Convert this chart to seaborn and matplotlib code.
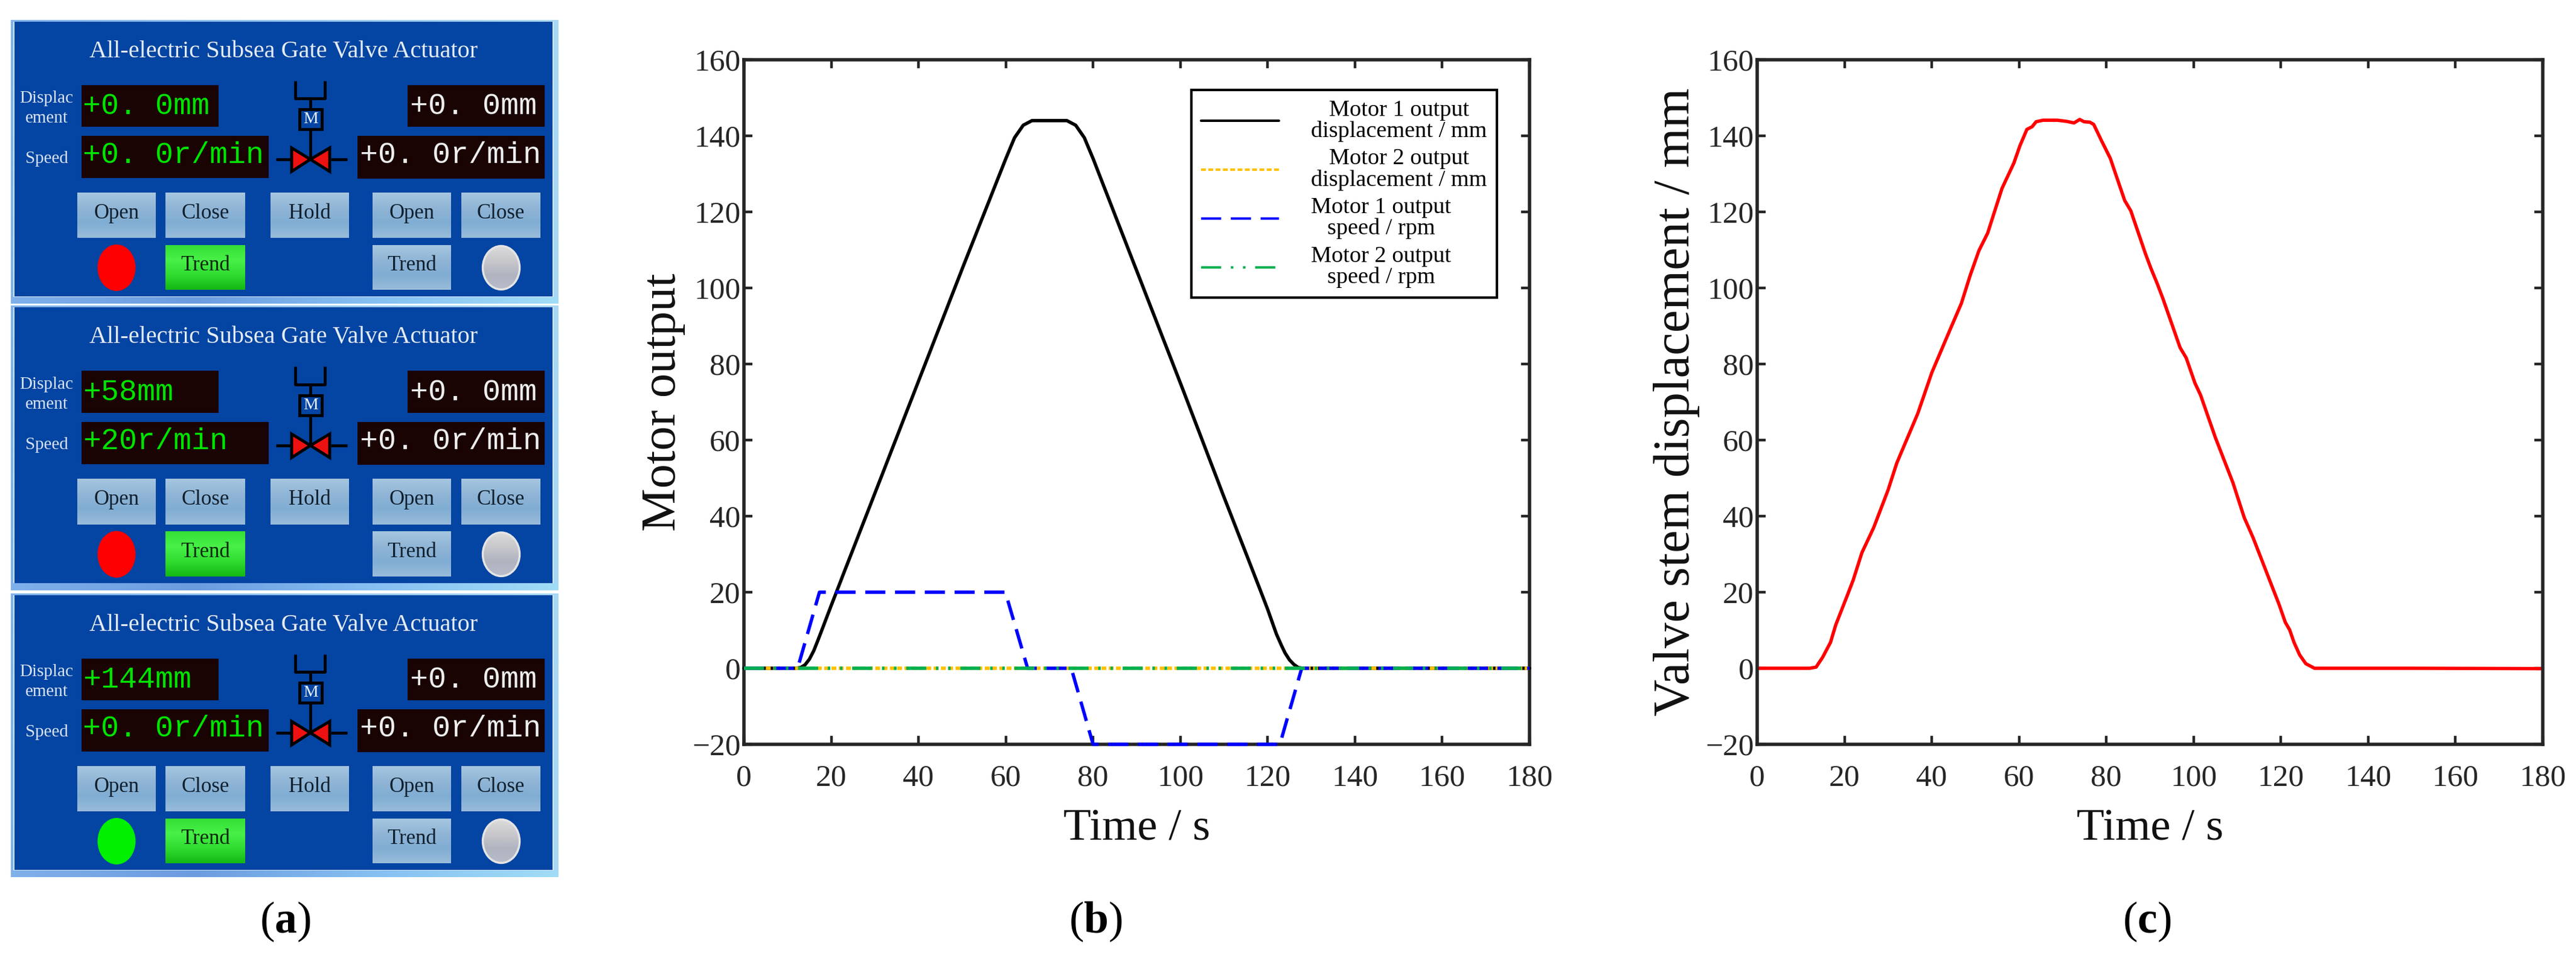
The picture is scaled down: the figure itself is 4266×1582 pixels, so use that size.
import numpy as np
import pandas as pd
import seaborn as sns
from matplotlib import pyplot as plt
from matplotlib.patches import Ellipse, Polygon, Rectangle

# panel (a) readouts
title_hmi = 'All-electric Subsea Gate Valve Actuator'
left_disp = ['+0. 0mm', '+58mm', '+144mm']
left_speed = ['+0. 0r/min', '+20r/min', '+0. 0r/min']
right_disp = ['+0. 0mm', '+0. 0mm', '+0. 0mm']
right_speed = ['+0. 0r/min', '+0. 0r/min', '+0. 0r/min']
lamp_colors = ['#ff0000', '#ff0000', '#00f000']

# panel (b) values
t_disp1 = [0, 12, 13, 14, 15, 16, 17, 18, 20, 23, 30, 40, 50, 60, 62, 64, 66, 70, 74, 76, 78, 80,
           90, 100, 110, 116.8, 120, 122, 123.2, 124, 125, 126, 127, 128, 180]
disp1 = [0, 0, 0.2, 0.9, 2.4, 4.6, 7.5, 10.5, 16.5, 25.4, 46, 75.5, 105, 134, 139.5, 142.8, 144, 144, 144, 142.8, 139.5, 134,
         104.5, 75, 45, 25, 15.5, 9, 5.9, 4, 2.2, 1, 0.2, 0, 0]
t_disp2 = [0, 180]
disp2 = [0, 0]
t_speed1 = [0, 12.3, 17.3, 59.9, 65, 75, 80, 122.8, 127.8, 180]
speed1 = [0, 0, 20, 20, 0, 0, -20, -20, 0, 0]
t_speed2 = [0, 180]
speed2 = [0, 0]
legend_labels = ['Motor 1 output\ndisplacement / mm', 'Motor 2 output\ndisplacement / mm',
                 'Motor 1 output\nspeed / rpm', 'Motor 2 output\nspeed / rpm']

# panel (c) values
t_stem = [0, 12, 13.5, 15, 16.8, 18, 20.7, 22, 24, 26.7, 30, 32, 36.8, 40, 43.4, 46.8, 48.8, 50.8, 52.8, 56.1,
          58.8, 60.2, 61.8, 63, 63.9, 65.5, 68.8, 70.9, 72.6, 73.9, 74.9, 76.2, 77.1, 78.9, 80.9, 84.2, 85.6,
          88.9, 90.2, 91.6, 92.9, 96.9, 98.3, 100.3, 101.6, 105, 107, 109, 111.6, 113.6, 117.6, 119.6, 121,
          122, 123, 124.3, 125.7, 127.7, 150, 180]
stem = [0, 0, 0.3, 2.9, 6.8, 11.4, 19.3, 23.2, 30.4, 37, 46.9, 54, 67, 77.7, 86.9, 96, 103.3, 109.8, 114.4, 126.2,
        132.8, 137.4, 141.7, 142.4, 143.7, 144.1, 144.1, 143.8, 143.4, 144.3, 143.7, 143.6, 143, 138.7, 134.1, 123, 120.3,
        109.2, 105.2, 101.3, 97.4, 84.3, 81.6, 75, 71.8, 60.6, 54.7, 48.8, 39.6, 34.4, 22.6, 16.7, 12.1,
        10.1, 6.8, 3.5, 1.2, 0, 0, -0.1]

x_ticks = list(range(0, 181, 20))
y_ticks = list(range(-20, 161, 20))

W, H = 4266, 1582
sns.set_theme(style='ticks', rc={'lines.scale_dashes': False, 'mathtext.fontset': 'custom',
                                 'mathtext.rm': 'Liberation Serif', 'mathtext.bf': 'Liberation Serif:bold'})
plt.rcParams['font.family'] = ['Liberation Serif', 'DejaVu Sans']

fig = plt.figure(figsize=(W / 100, H / 100), dpi=100)


def axes_px(left, top, right, bottom):
    return fig.add_axes([left / W, 1 - bottom / H, (right - left) / W, (bottom - top) / H])


def gradient(ax, x0, x1, y0, y1, colors, horizontal=False, zorder=1):
    rgb = np.array([plt.matplotlib.colors.to_rgb(c) for c in colors])
    pos = np.linspace(0, 1, len(colors))
    s = np.linspace(0, 1, 64)
    img = np.stack([np.interp(s, pos, rgb[:, i]) for i in range(3)], axis=-1)
    img = img[None, :, :] if horizontal else img[:, None, :]
    return ax.imshow(img, extent=(x0, x1, y1, y0), aspect='auto', zorder=zorder, interpolation='bilinear')


def button(ax, x0, x1, y0, y1, label, green=False):
    if green:
        cols = ['#35e035', '#48f048', '#30dc30', '#14b814']
        txt = '#0a2a0a'
    else:
        cols = ['#a5c6df', '#90b5d6', '#80add3', '#99bcda']
        txt = '#10202e'
    gradient(ax, x0, x1, y0, y1, cols, zorder=2)
    ax.text((x0 + x1) / 2, (y0 + y1) / 2 - 3, label, ha='center', va='center', fontsize=25, color=txt, zorder=4)


def hmi_panel(top, bottom, i):
    ax = axes_px(18, top, 925, bottom)
    # window frame and blue client area
    gradient(ax, 18, 925, 0, 470, ['#7fb2ea', '#a8d8f2'], horizontal=True, zorder=0)
    ax.add_patch(Rectangle((22, 3), 895, 457, fc='#cfe6f5', ec='none', zorder=1))
    gradient(ax, 18, 925, 459, 470, ['#7fb0ea', '#6c9ce0', '#86c0f2', '#a0dcf6'], horizontal=True, zorder=1)
    ax.add_patch(Rectangle((24, 3), 891, 455, fc='#0444a2', ec='none', zorder=1.5))

    ax.text(470, 52, title_hmi, ha='center', va='center', fontsize=29, color='#e4ecf4', zorder=4)
    ax.text(77, 130, 'Displac', ha='center', va='center', fontsize=21, color='#d8e4f2', zorder=4)
    ax.text(77, 163, 'ement', ha='center', va='center', fontsize=21, color='#d8e4f2', zorder=4)
    ax.text(77, 230, 'Speed', ha='center', va='center', fontsize=21, color='#d8e4f2', zorder=4)

    # readouts
    for (x0, x1, y0, y1) in [(135, 362, 108, 177), (135, 445, 192, 262), (675, 902, 108, 177), (592, 902, 192, 263)]:
        ax.add_patch(Rectangle((x0, y0), x1 - x0, y1 - y0, fc='#1a0303', ec='none', zorder=2))
    mono = dict(family='Liberation Mono', fontsize=36, va='center', zorder=4)
    ax.text(137, 143, left_disp[i], color='#00e400', **mono)
    ax.text(137, 224, left_speed[i], color='#00e400', **mono)
    ax.text(679, 143, right_disp[i], color='#eeeeee', **mono)
    ax.text(596, 224, right_speed[i], color='#eeeeee', **mono)

    # valve symbol
    k = dict(color='black', lw=3.5, zorder=3, solid_capstyle='butt')
    ax.plot([489, 489, 538, 538], [101, 130, 130, 101], **k)
    ax.plot([514, 514], [130, 231], **k)
    ax.plot([457, 481], [231, 231], **k)
    ax.plot([548, 575], [231, 231], **k)
    ax.add_patch(Rectangle((496, 148), 37, 33, fc='#0444a2', ec='black', lw=3.5, zorder=3.5))
    ax.text(514.5, 165, 'M', ha='center', va='center', fontsize=20, color='#e8f0f8', zorder=4)
    ax.add_patch(Polygon([(483, 212), (514, 231), (483, 251)], fc='#ee1111', ec='black', lw=3.5, zorder=3.5))
    ax.add_patch(Polygon([(546, 212), (514, 231), (546, 251)], fc='#ee1111', ec='black', lw=3.5, zorder=3.5))

    # buttons and lamps
    for (x0, x1, label) in [(128, 258, 'Open'), (274, 406, 'Close'), (448, 578, 'Hold'), (617, 747, 'Open'), (764, 895, 'Close')]:
        button(ax, x0, x1, 286, 361, label)
    button(ax, 274, 406, 373, 447, 'Trend', green=True)
    button(ax, 617, 747, 373, 447, 'Trend')
    ax.add_patch(Ellipse((193, 410.5), 63, 77, fc=lamp_colors[i], ec='none', zorder=3))
    grey = Ellipse((830, 410.5), 61, 72, fc='none', ec='#e4e4e4', lw=2.5, zorder=3.5)
    ax.add_patch(grey)
    im = gradient(ax, 799, 861, 374, 447, ['#dcdcdc', '#c8c8cc', '#b0b4c0', '#b8bcc8'], zorder=3)
    im.set_clip_path(grey)

    ax.set_xlim(18, 925)
    ax.set_ylim(470, 0)
    ax.axis('off')


hmi_panel(33, 503, 0)
hmi_panel(506, 978, 1)
hmi_panel(983, 1453, 2)


def style_axis(ax, xlabel, ylabel, ylab_x, ylab_size):
    ax.set_xlim(0, 180)
    ax.set_ylim(-20, 160)
    ax.set_xticks(x_ticks)
    ax.set_yticks(y_ticks)
    ax.tick_params(axis='both', direction='in', top=True, right=True, length=10, width=3.2,
                   color='#262626', labelcolor='#262626', labelsize=37)
    ax.tick_params(axis='x', pad=24)
    ax.tick_params(axis='y', pad=4)
    for sp in ax.spines.values():
        sp.set_linewidth(4)
        sp.set_color('#262626')
    ax.set_xlabel(xlabel, fontsize=54, color='#111111', va='center')
    ax.xaxis.set_label_coords(0.5, -0.124)
    ax.set_ylabel(ylabel, fontsize=ylab_size, color='#111111', va='baseline')
    ax.yaxis.set_label_coords(ylab_x, 0.5)


# panel (b)
ax_b = axes_px(1232, 99, 2533, 1233)
dash_orange = (0, (5.8, 2.9))
dash_blue = (0, (24, 11.5))
dash_green = (0, (24, 11.5, 3, 11.5, 3, 11.5))
line_kw = dict(ax=ax_b, lw=4, estimator=None, zorder=3, clip_on=False)
sns.lineplot(x=t_disp1, y=disp1, color='black', label=legend_labels[0], **line_kw)
sns.lineplot(x=t_disp2, y=disp2, color='#ffc000', linestyle=dash_orange, label=legend_labels[1], **line_kw)
sns.lineplot(x=t_speed1, y=speed1, color='#0000ff', linestyle=dash_blue, label=legend_labels[2], **line_kw)
sns.lineplot(x=t_speed2, y=speed2, color='#00b050', linestyle=dash_green, label=legend_labels[3], **line_kw)
style_axis(ax_b, 'Time / s', 'Motor output', -0.0876, 58)

leg = ax_b.legend(loc='upper left', bbox_to_anchor=(1973 / W, 1 - 149 / H), bbox_transform=fig.transFigure,
                  borderaxespad=0, fontsize=27.5, frameon=True, fancybox=False, framealpha=1, edgecolor='black',
                  handlelength=3.37, handletextpad=1.4, labelspacing=0.3, borderpad=0.42, labelcolor='black')
leg.get_frame().set_linewidth(3)
for t in leg.get_texts():
    t.set_multialignment('center')
    t.set_linespacing(1.0)
for h in leg.legend_handles:
    h.set_linewidth(2.9)

# panel (c)
ax_c = axes_px(2910, 99, 4211, 1233)
sns.lineplot(x=t_stem, y=stem, ax=ax_c, color='#ff0000', lw=4, estimator=None)
style_axis(ax_c, 'Time / s', 'Valve stem displacement / mm', -0.0869, 61)

# captions
for x, letter in [(472, 'a'), (1814, 'b'), (3555, 'c')]:
    fig.text(x / W, 1 - 1527 / H, r'($\mathbf{' + letter + r'}$)', ha='center', va='center', fontsize=53, color='black')

fig.savefig('out.png', dpi=100)
